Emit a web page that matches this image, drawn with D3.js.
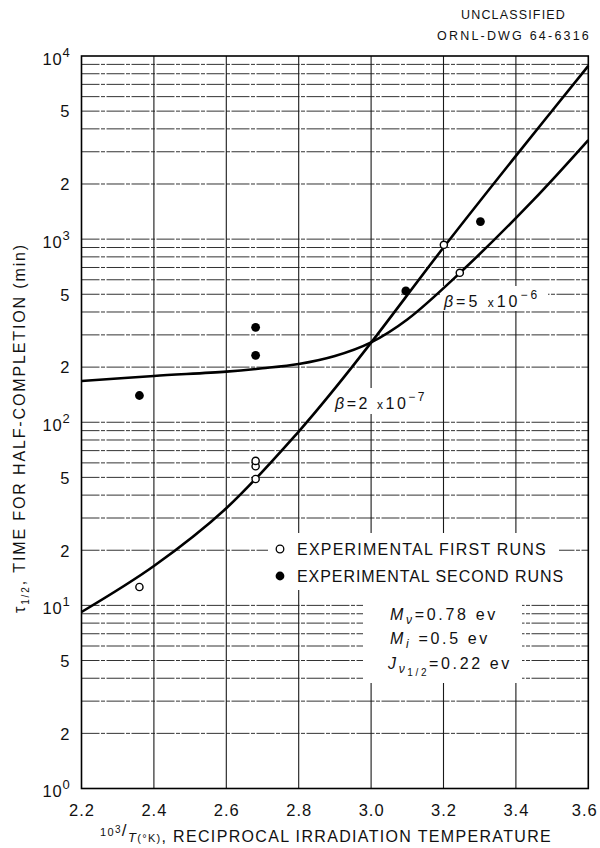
<!DOCTYPE html>
<html>
<head>
<meta charset="utf-8">
<script src="https://cdn.jsdelivr.net/npm/d3@7/dist/d3.min.js"></script>
<style>
  html, body { margin: 0; padding: 0; background: #fff; }
  svg { display: block; font-family: "Liberation Sans", Arial, sans-serif; }
</style>
</head>
<body>
<svg id="chart" width="600" height="848"></svg>
<script>
// Reciprocal temperature ticks (10^3 / T)
const xTicks = [2.2, 2.4, 2.6, 2.8, 3.0, 3.2, 3.4, 3.6];
// Decade exponents and labelled in-decade multiples
const yDecades = [0, 1, 2, 3, 4];
const yMultiples = [2, 5];

// Experimental first runs (open circles)
const firstX = [2.360, 2.681, 2.681, 2.681, 3.201, 3.245];
const firstY = [12.6, 49, 57.5, 61.5, 931, 655];
// Experimental second runs (filled circles)
const secondX = [2.360, 2.681, 2.681, 3.096, 3.302];
const secondY = [140, 232, 330, 521, 1247];

// Calculated curve, beta = 2 x 10^-7
const curveAX = [2.2, 2.4, 2.6, 2.8, 2.9, 3.0, 3.2, 3.4, 3.6];
const curveAY = [9.2, 16.4, 33.9, 89, 153, 272, 900, 2850, 8830];
// Calculated curve, beta = 5 x 10^-6
const curveBX = [2.2, 2.4, 2.6, 2.7, 2.8, 2.9, 3.0, 3.1, 3.245, 3.448, 3.6];
const curveBY = [168, 179, 189, 197, 208, 230, 273, 364, 653, 1633, 3475];

const svg = d3.select("#chart");
svg.append("rect").attr("width", 600).attr("height", 848).attr("fill", "#fff");

const x = d3.scaleLinear().domain([2.2, 3.6]).range([81.5, 588.3]);
const y = d3.scaleLog().domain([1, 1e4]).range([788.5, 56]);

// stretch a text element's letter spacing to span a given width
function fit(sel, width) {
  const node = sel.node();
  const n = node.getNumberOfChars();
  const len = node.getComputedTextLength();
  sel.attr("letter-spacing", ((width - len) / n).toFixed(3));
  return sel;
}

// ---- grid ----
const grid = svg.append("g");
const hLines = [];
yDecades.slice(0, 4).forEach(e => { for (let k = 1; k <= 9; k++) hLines.push(k * Math.pow(10, e)); });
grid.selectAll("line.h").data(hLines.filter(v => v > 1)).join("line")
  .attr("x1", x(2.2)).attr("x2", x(3.6))
  .attr("y1", d => y(d)).attr("y2", d => y(d))
  .attr("stroke", "#333").attr("stroke-width", 1)
  .attr("stroke-dasharray", "18,1.5,4,1.5");
grid.selectAll("line.v").data(xTicks.slice(1, -1)).join("line")
  .attr("x1", d => x(d)).attr("x2", d => x(d))
  .attr("y1", y(1e4)).attr("y2", y(1))
  .attr("stroke", "#1a1a1a").attr("stroke-width", 1.1);

// ---- white panels for legend, parameters and curve labels ----
const panels = svg.append("g").attr("fill", "#fff");
panels.append("rect").attr("x", 268).attr("y", 533).attr("width", 291).attr("height", 57);
panels.append("rect").attr("x", 363).attr("y", 590).attr("width", 159).attr("height", 93);
panels.append("rect").attr("x", 440).attr("y", 286).attr("width", 108).attr("height", 25);
panels.append("rect").attr("x", 332).attr("y", 388).attr("width", 98).attr("height", 26);

// ---- frame ----
svg.append("rect").attr("x", x(2.2)).attr("y", y(1e4))
  .attr("width", x(3.6) - x(2.2)).attr("height", y(1) - y(1e4))
  .attr("fill", "none").attr("stroke", "#000").attr("stroke-width", 1.6);

// ---- x axis labels ----
const xAxis = d3.axisBottom(x).tickValues(xTicks).tickFormat(d3.format(".1f")).tickSize(0).tickPadding(0);
const gx = svg.append("g").attr("transform", `translate(0,${y(1)})`).call(xAxis);
gx.select(".domain").remove();
gx.selectAll("text").attr("y", 27).attr("dy", 0)
  .attr("font-size", 16.5).attr("font-family", "Liberation Sans, Arial, sans-serif")
  .attr("letter-spacing", 1.0).attr("fill", "#111")
  .attr("x", d => d === 3.6 ? -4 : 0);

// ---- y axis labels ----
const yTickVals = [];
yDecades.forEach(e => {
  yTickVals.push(Math.pow(10, e));
  if (e < 4) yMultiples.forEach(m => yTickVals.push(m * Math.pow(10, e)));
});
const yAxis = d3.axisLeft(y).tickValues(yTickVals).tickFormat(() => "").tickSize(0);
const gy = svg.append("g").attr("transform", `translate(${x(2.2)},0)`).call(yAxis);
gy.select(".domain").remove();
gy.selectAll(".tick text").each(function (d) {
  const t = d3.select(this).attr("x", -11).attr("text-anchor", "end")
    .attr("font-size", 16.5).attr("font-family", "Liberation Sans, Arial, sans-serif")
    .attr("fill", "#111");
  const e = Math.floor(Math.log10(d) + 1e-9);
  const m = Math.round(d / Math.pow(10, e));
  if (m === 1) {
    t.attr("dy", "0.5em").attr("letter-spacing", 0.8);
    t.append("tspan").text("10");
    t.append("tspan").attr("font-size", 13).attr("dy", "-0.62em").text(String(e));
  } else {
    t.attr("dy", "0.35em").attr("x", -12).text(String(m));
  }
});

// ---- curves ----
const line = d3.line().x(d => x(d[0])).y(d => y(d[1])).curve(d3.curveCatmullRom.alpha(0.5));
const curveA = curveAX.map((v, i) => [v, curveAY[i]]);
const curveB = curveBX.map((v, i) => [v, curveBY[i]]);
[curveA, curveB].forEach(c => {
  svg.append("path").datum(c).attr("d", line)
    .attr("fill", "none").attr("stroke", "#000").attr("stroke-width", 2.6)
    .attr("stroke-linejoin", "round");
});

// ---- data points ----
svg.append("g").selectAll("circle").data(firstX.map((v, i) => [v, firstY[i]])).join("circle")
  .attr("cx", d => x(d[0])).attr("cy", d => y(d[1])).attr("r", 3.6)
  .attr("fill", "#fff").attr("stroke", "#000").attr("stroke-width", 1.4);
svg.append("g").selectAll("circle").data(secondX.map((v, i) => [v, secondY[i]])).join("circle")
  .attr("cx", d => x(d[0])).attr("cy", d => y(d[1])).attr("r", 4.4)
  .attr("fill", "#000");

// ---- curve labels ----
function betaLabel(px, py, mant, exp, width) {
  const t = svg.append("text").attr("x", px).attr("y", py)
    .attr("font-size", 16).attr("fill", "#111");
  t.append("tspan").attr("font-style", "italic").text("β");
  t.append("tspan").text("=" + mant + " ");
  t.append("tspan").attr("font-size", 12).text("x");
  t.append("tspan").text("10");
  t.append("tspan").attr("font-size", 12).attr("dy", -8).text("−" + exp);
  fit(t, width);
}
betaLabel(444, 307, "5", "6", 96);
betaLabel(335, 409, "2", "7", 92);

// ---- legend ----
const legend = svg.append("g").attr("fill", "#111");
legend.append("circle").attr("cx", 280).attr("cy", 549).attr("r", 3.8)
  .attr("fill", "#fff").attr("stroke", "#000").attr("stroke-width", 1.3);
legend.append("circle").attr("cx", 280).attr("cy", 576).attr("r", 4.4).attr("fill", "#000");
fit(legend.append("text").attr("x", 297).attr("y", 555).attr("font-size", 16)
  .text("EXPERIMENTAL FIRST RUNS"), 250);
fit(legend.append("text").attr("x", 297).attr("y", 582).attr("font-size", 16)
  .text("EXPERIMENTAL SECOND RUNS"), 267);

// ---- model parameters ----
const params = svg.append("g").attr("fill", "#111").attr("font-size", 16);
const p1 = params.append("text").attr("x", 390).attr("y", 620);
p1.append("tspan").attr("font-style", "italic").text("M");
p1.append("tspan").attr("font-style", "italic").attr("font-size", 12).attr("dy", 4).text("ν");
p1.append("tspan").attr("dy", -4).text("=0.78  ev");
fit(p1, 108);
const p2 = params.append("text").attr("x", 390).attr("y", 644);
p2.append("tspan").attr("font-style", "italic").text("M");
p2.append("tspan").attr("font-style", "italic").attr("font-size", 12).attr("dy", 4).text("i");
p2.append("tspan").attr("dy", -4).text(" =0.5  ev");
fit(p2, 100);
const p3 = params.append("text").attr("x", 388).attr("y", 669);
p3.append("tspan").attr("font-style", "italic").text("J");
p3.append("tspan").attr("font-style", "italic").attr("font-size", 12).attr("dy", 4).text("ν");
p3.append("tspan").attr("font-size", 10).attr("dy", 3).text("1/2");
p3.append("tspan").attr("dy", -7).text("=0.22  ev");
fit(p3, 124);

// ---- axis titles ----
const xt = svg.append("text").attr("x", 100).attr("y", 842).attr("font-size", 16).attr("fill", "#111");
xt.append("tspan").attr("font-size", 11).attr("dy", -6).text("10");
xt.append("tspan").attr("font-size", 10).attr("dy", -3).text("3");
xt.append("tspan").attr("font-size", 17).attr("dy", 3).text("/");
xt.append("tspan").attr("font-size", 13).attr("font-style", "italic").attr("dy", 6).text("T");
xt.append("tspan").attr("font-size", 11).text("(°K)");
xt.append("tspan").text(", RECIPROCAL  IRRADIATION  TEMPERATURE");
fit(xt, 452);

const yt = svg.append("text").attr("transform", "translate(25,428) rotate(-90)")
  .attr("text-anchor", "middle").attr("font-size", 16).attr("fill", "#111");
yt.append("tspan").text("τ");
yt.append("tspan").attr("font-size", 10).attr("dy", 4).text("1/2");
yt.append("tspan").attr("dy", -4).text(", TIME  FOR  HALF-COMPLETION  (min)");
fit(yt, 370);

// ---- drawing number ----
fit(svg.append("text").attr("x", 461).attr("y", 19).attr("font-size", 12.5).attr("fill", "#111")
  .text("UNCLASSIFIED"), 105);
fit(svg.append("text").attr("x", 437).attr("y", 40).attr("font-size", 12.5).attr("fill", "#111")
  .text("ORNL-DWG 64-6316"), 154);
</script>
</body>
</html>
